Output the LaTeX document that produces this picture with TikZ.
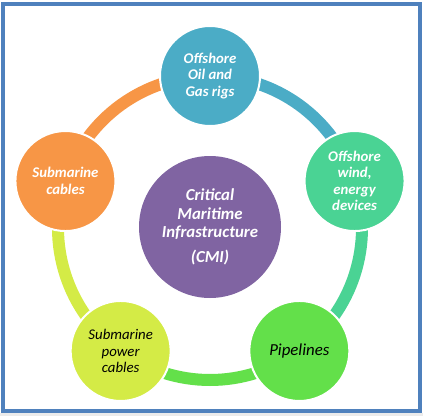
\documentclass[tikz,border=0pt]{standalone}
\usepackage{fontspec}
\setmainfont{Carlito}
\usetikzlibrary{calc}
\definecolor{cblue}{HTML}{4BACC6}
\definecolor{cteal}{HTML}{4AD394}
\definecolor{cgreen}{HTML}{63E04A}
\definecolor{cyellow}{HTML}{D4EB46}
\definecolor{corange}{HTML}{F79646}
\definecolor{cpurple}{HTML}{8064A2}
\definecolor{cframe}{HTML}{4F81BD}
\begin{document}
\begin{tikzpicture}[x=1pt,y=1pt,
  outer/.style={circle, draw=white, line width=2pt, minimum size=100pt, inner sep=0pt, align=center,
     font=\fontsize{14.8}{16.5}\selectfont\bfseries\itshape},
  darktext/.style={text=black, font=\fontsize{14.8}{16.5}\selectfont\itshape},
  ringseg/.style={line width=12pt},
]
\useasboundingbox (0,0) rectangle (423,416);
\fill[white] (0,0) rectangle (423,416);
\fill[black!8] (0,0) rectangle (423,3);
\draw[cframe, line width=4pt] (3,5) rectangle (420,412);
\coordinate (c) at (210,188);
\coordinate (p1) at ($(c)+(90:152)$);
\coordinate (p2) at ($(c)+(18:152)$);
\coordinate (p3) at ($(c)+(-54:152)$);
\coordinate (p4) at ($(c)+(-126:152)$);
\coordinate (p5) at ($(c)+(162:152)$);
% ring segments
\draw[ringseg, cblue] (p1) arc[start angle=90, end angle=18, radius=152];
\draw[ringseg, cteal] (p2) arc[start angle=18, end angle=-54, radius=152];
\draw[ringseg, cgreen] (p3) arc[start angle=-54, end angle=-126, radius=152];
\draw[ringseg, cyellow] (p4) arc[start angle=-126, end angle=-198, radius=152];
\draw[ringseg, corange] (p5) arc[start angle=162, end angle=90, radius=152];
% circles
\node[outer, fill=cblue, text=white] (top) at (p1) {Offshore\\Oil and\\Gas rigs};
\node[outer, fill=cteal, text=white] (right) at (p2) {Offshore\\wind,\\energy\\devices};
\node[outer, fill=cgreen, darktext, font=\fontsize{16.8}{19}\selectfont\itshape] (br) at (p3) {Pipelines};
\node[outer, fill=cyellow, darktext] (bl) at (p4) {Submarine\\power\\cables};
\node[outer, fill=corange, text=white] (left) at (p5) {Submarine\\cables};
\node[circle, fill=cpurple, minimum size=142pt, inner sep=0pt, align=center, text=white,
  font=\fontsize{16.8}{18.7}\selectfont\bfseries\itshape] (cmi) at (210,189)
  {Critical\\Maritime\\Infrastructure\\[6pt](CMI)};
\end{tikzpicture}
\end{document}
